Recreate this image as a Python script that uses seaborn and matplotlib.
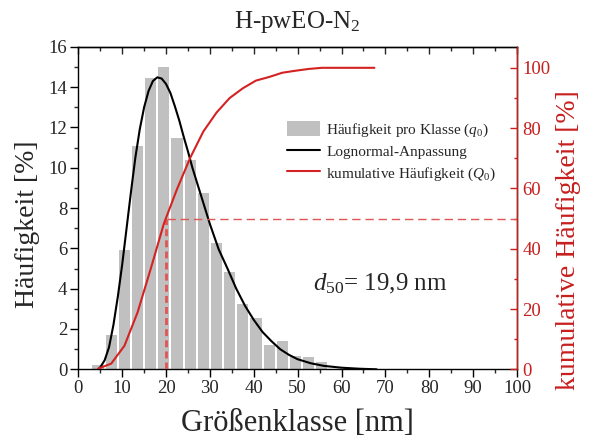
import numpy as np
import matplotlib
matplotlib.use("Agg")
import matplotlib.pyplot as plt
from matplotlib.ticker import MultipleLocator
from matplotlib.patches import Patch
from matplotlib.lines import Line2D
import seaborn as sns

# Size classes (bin centres, nm) and frequency per class q0 (%)
class_centers = [4.5, 7.5, 10.5, 13.5, 16.5, 19.5, 22.5, 25.5, 28.5, 31.5, 34.5,
                 37.5, 40.5, 43.5, 46.5, 49.5, 52.5, 55.5, 58.5, 61.5, 64.5, 67.5]
q0 = [0.2, 1.7, 5.9, 11.07, 14.45, 15.0, 11.45, 10.38, 8.73, 6.27, 4.83,
      3.23, 2.56, 1.19, 1.41, 0.66, 0.59, 0.38, 0.0, 0.0, 0.0, 0.0]

# Lognormal fit curve (nm, %)
fit_x = [4.5, 5, 6, 7, 8, 9, 10, 11, 12, 13, 14, 15, 16, 17, 18, 19, 20, 21, 22,
         23, 24, 25, 26, 28, 30, 32, 34, 36, 38, 40, 42, 44, 46, 48, 50, 53, 56,
         60, 64, 68]
fit_y = [0.0, 0.1, 0.45, 1.1, 2.2, 3.6, 5.2, 7.0, 8.8, 10.5, 11.9, 13.0, 13.8,
         14.3, 14.48, 14.42, 14.15, 13.7, 13.05, 12.35, 11.55, 10.8, 10.0, 8.6,
         7.2, 5.95, 5.0, 4.0, 3.15, 2.45, 1.85, 1.4, 1.0, 0.72, 0.5, 0.3, 0.17,
         0.08, 0.03, 0.0]

d50 = 19.9

GREY = "#c0c0c0"
RED = "#d42222"
RED_LIGHT = "#e05555"
AXRED = "#c81e1e"

sns.set_style("ticks")
plt.rcParams["font.family"] = ["Liberation Serif", "DejaVu Serif"]
plt.rcParams["mathtext.fontset"] = "custom"
plt.rcParams["mathtext.rm"] = "Liberation Serif"
plt.rcParams["mathtext.it"] = "Liberation Serif:italic"
plt.rcParams["axes.linewidth"] = 1.0

fig = plt.figure(figsize=(5.98, 4.44), dpi=100)
ax = fig.add_axes([0.131, 0.1682, 0.7335, 0.7266])

# histogram of class frequencies
sns.histplot(x=class_centers, weights=q0, binwidth=3, binrange=(3, 69),
             shrink=0.85, color=GREY, edgecolor="none", linewidth=0,
             alpha=1, ax=ax, zorder=1)
# lognormal fit
sns.lineplot(x=fit_x, y=fit_y, color="black", linewidth=1.5, ax=ax, zorder=3)

ax.set_xlim(0, 100)
ax.set_ylim(0, 16)
ax.xaxis.set_major_locator(MultipleLocator(10))
ax.xaxis.set_minor_locator(MultipleLocator(5))
ax.yaxis.set_major_locator(MultipleLocator(2))
ax.yaxis.set_minor_locator(MultipleLocator(1))
ax.tick_params(axis="both", which="major", direction="out", length=6, width=1,
               labelsize=13.5, pad=2, color="black")
ax.tick_params(axis="both", which="minor", direction="out", length=3, width=1)
ax.set_xlabel("Größenklasse [nm]", fontsize=22, labelpad=8)
ax.set_ylabel("Häufigkeit [%]", fontsize=20)
ax.yaxis.set_label_coords(-0.087, 0.45)
for s in ax.spines.values():
    s.set_color("black")

# inward ticks along the top edge
top = ax.secondary_xaxis("top")
top.xaxis.set_major_locator(MultipleLocator(10))
top.xaxis.set_minor_locator(MultipleLocator(5))
top.tick_params(axis="x", which="major", direction="in", length=5, width=1,
                labeltop=False)
top.tick_params(axis="x", which="minor", direction="in", length=3, width=1)

# cumulative frequency on the right axis
ax2 = ax.twinx()
Q0 = np.cumsum(q0)
sns.lineplot(x=class_centers, y=Q0, color=RED, linewidth=1.5, ax=ax2, zorder=4)
ax2.plot([d50, d50], [0, 50], color=RED_LIGHT, linewidth=2,
         linestyle=(0, (2.5, 1.5)), zorder=2)
ax2.plot([d50 + 0.4, 100], [50, 50], color=RED_LIGHT, linewidth=1,
         linestyle=(0, (6, 3.5)), zorder=2)
ax2.set_ylim(0, 107)
ax2.yaxis.set_major_locator(MultipleLocator(20))
ax2.yaxis.set_minor_locator(MultipleLocator(10))
ax2.tick_params(axis="y", which="major", direction="in", length=5, width=1,
                labelsize=13.5, colors=AXRED, pad=4)
ax2.tick_params(axis="y", which="minor", direction="in", length=2.5, width=1,
                colors=AXRED)
ax2.set_ylabel("kumulative Häufigkeit [%]", fontsize=20, color=AXRED)
ax2.yaxis.set_label_coords(1.09, 0.40)
ax2.spines["right"].set_color(AXRED)
for side in ("left", "top", "bottom"):
    ax2.spines[side].set_visible(False)

handles = [
    Patch(facecolor=GREY, edgecolor="none", label=r"Häufigkeit pro Klasse ($q_0$)"),
    Line2D([], [], color="black", linewidth=1.5, label="Lognormal-Anpassung"),
    Line2D([], [], color=RED, linewidth=1.5, label=r"kumulative Häufigkeit ($Q_0$)"),
]
ax2.legend(handles=handles, loc="upper left", bbox_to_anchor=(0.475, 0.77),
           frameon=False, fontsize=11, handlelength=2.2, handleheight=1.1,
           handletextpad=0.4, labelspacing=0.35, borderpad=0, borderaxespad=0)

ax.text(0.535, 0.246, r"$d_{\mathit{50}}$= 19,9 nm", transform=ax.transAxes,
        fontsize=18, va="baseline", ha="left")

fig.text(0.497, 0.937, r"H-pwEO-N$_2$", fontsize=18, ha="center", va="baseline")

fig.savefig("out.png", dpi=100)
